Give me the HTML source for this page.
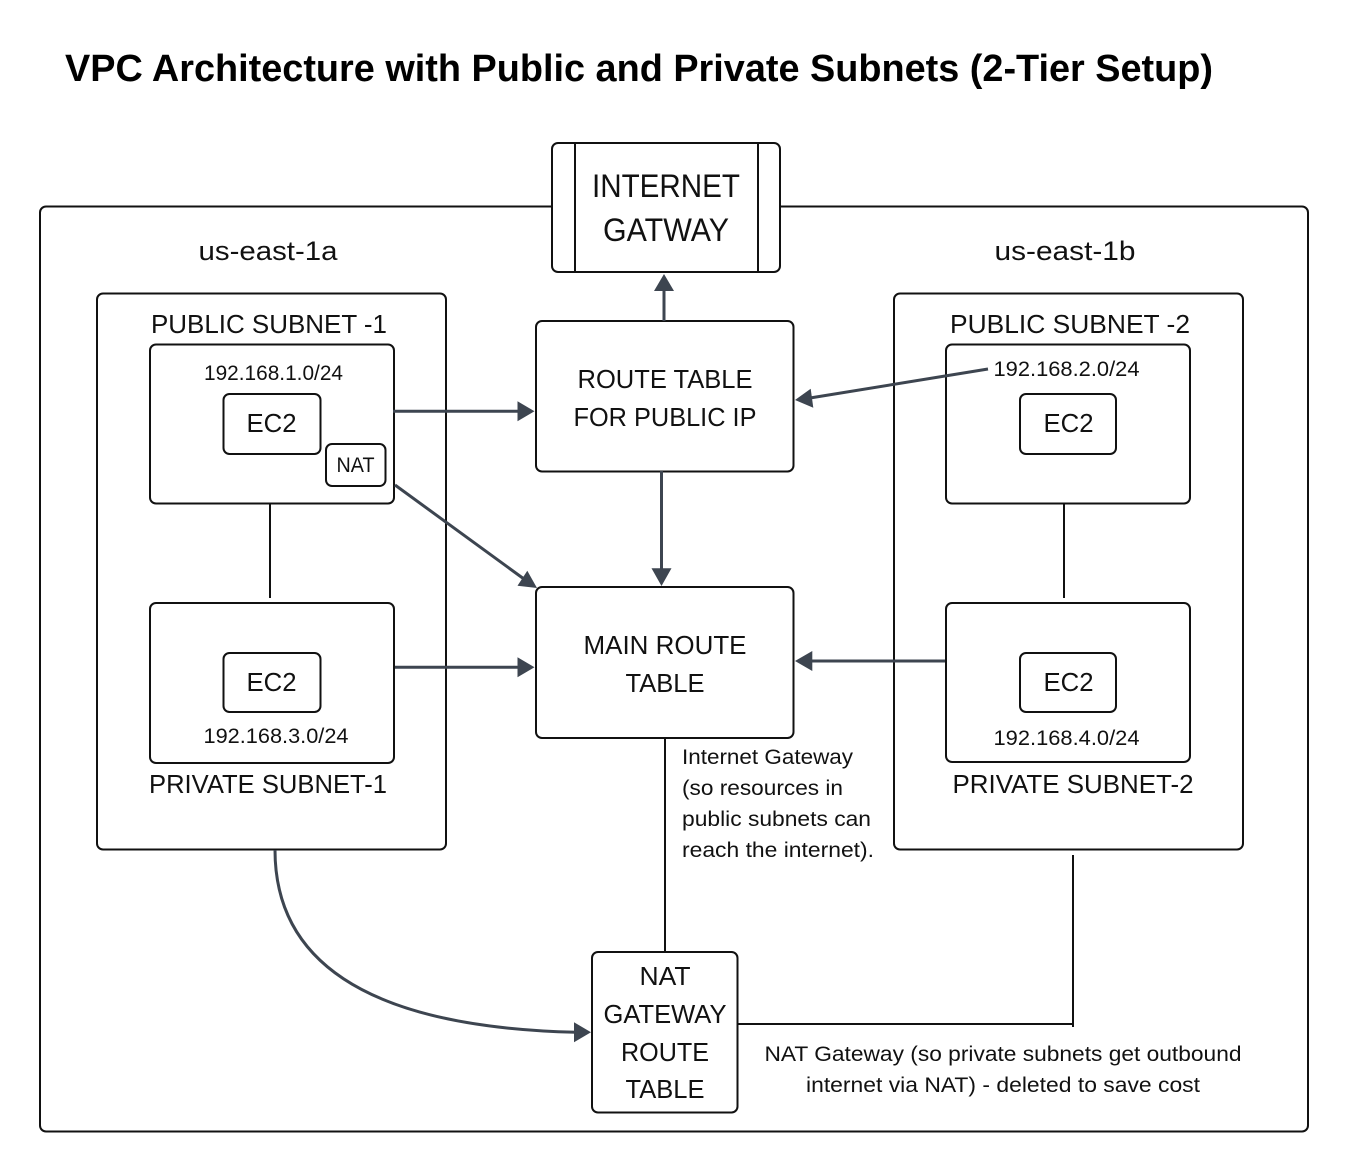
<!DOCTYPE html>
<html><head><meta charset="utf-8"><style>
html,body{margin:0;padding:0;background:#fff}
svg{display:block}
text{font-family:"Liberation Sans",sans-serif;fill:#111;text-anchor:middle}
.b{fill:#fff;stroke:#111;stroke-width:2}
.l{stroke:#111;stroke-width:2;fill:none}
.c{stroke:#3d4550;stroke-width:3;fill:none}
.h{fill:#3d4550;stroke:none}
</style></head><body>
<svg width="1348" height="1171" viewBox="0 0 1348 1171" xmlns="http://www.w3.org/2000/svg">
<rect width="1348" height="1171" fill="#fff"/>
<text x="639" y="81" font-size="38" font-weight="700" textLength="1148" lengthAdjust="spacingAndGlyphs" style="fill:#000">VPC Architecture with Public and Private Subnets (2-Tier Setup)</text>
<rect class="b" x="40" y="206.500" width="1268" height="925" rx="6"/>
<rect class="b" x="97" y="293.500" width="349" height="556" rx="6"/>
<rect class="b" x="894" y="293.500" width="349" height="556" rx="6"/>
<rect class="b" x="150" y="344.500" width="244" height="159" rx="6"/>
<rect class="b" x="150" y="603" width="244" height="160" rx="6"/>
<rect class="b" x="946" y="344.500" width="244" height="159" rx="6"/>
<rect class="b" x="946" y="603" width="244" height="159" rx="6"/>
<rect class="b" x="223.500" y="394" width="97" height="60" rx="6"/>
<rect class="b" x="326" y="444" width="59.500" height="42" rx="6"/>
<rect class="b" x="1020" y="394" width="96" height="60" rx="6"/>
<rect class="b" x="223.500" y="653" width="97" height="59" rx="6"/>
<rect class="b" x="1020" y="653" width="96" height="59" rx="6"/>
<rect class="b" x="552" y="143" width="228" height="129" rx="6"/>
<path class="l" d="M575 143V272M758 143V272"/>
<rect class="b" x="536" y="321" width="257.500" height="150.500" rx="6"/>
<rect class="b" x="536" y="587" width="257.500" height="151" rx="6"/>
<rect class="b" x="592" y="952" width="145.500" height="160.500" rx="6"/>
<path class="l" d="M270 504V598M1064 504V598M665 738V952M738 1024H1073M1073 855V1027"/>
<path class="c" d="M664 321V290M393 411.300H520M661.500 471V572M395 485L524 579M395 667.300H520M945 661H810M988 369L810 398M275 850C275 980 400 1028 576 1032.300"/>
<path class="h" d="M664 274L674 291H654ZM534.500 411.300L517.500 401.300V421.300ZM661.500 586L651.500 568.300H671.500ZM537 588L517.500 585.700L527.300 570.700ZM534.500 667.300L517.500 657.300V677.300ZM795 661L812.300 651V671ZM795 400L810.700 388.700L813.300 407.700ZM591 1032.300L574 1022.300V1042.300Z"/>
<g font-size="27">
<text x="268" y="260" textLength="139" lengthAdjust="spacingAndGlyphs">us-east-1a</text>
<text x="1065" y="260" textLength="141" lengthAdjust="spacingAndGlyphs">us-east-1b</text>
</g>
<g font-size="26">
<text x="269" y="333" textLength="236" lengthAdjust="spacingAndGlyphs">PUBLIC SUBNET -1</text>
<text x="1070" y="333" textLength="240" lengthAdjust="spacingAndGlyphs">PUBLIC SUBNET -2</text>
<text x="268" y="793" textLength="238" lengthAdjust="spacingAndGlyphs">PRIVATE SUBNET-1</text>
<text x="1073" y="793" textLength="241" lengthAdjust="spacingAndGlyphs">PRIVATE SUBNET-2</text>
<text x="271.500" y="432" textLength="50" lengthAdjust="spacingAndGlyphs">EC2</text>
<text x="1068.500" y="432" textLength="50" lengthAdjust="spacingAndGlyphs">EC2</text>
<text x="271.500" y="691" textLength="50" lengthAdjust="spacingAndGlyphs">EC2</text>
<text x="1068.500" y="691" textLength="50" lengthAdjust="spacingAndGlyphs">EC2</text>
<text x="665" y="388" textLength="175" lengthAdjust="spacingAndGlyphs">ROUTE TABLE</text>
<text x="665" y="426" textLength="183" lengthAdjust="spacingAndGlyphs">FOR PUBLIC IP</text>
<text x="665" y="654" textLength="163" lengthAdjust="spacingAndGlyphs">MAIN ROUTE</text>
<text x="665" y="692" textLength="79" lengthAdjust="spacingAndGlyphs">TABLE</text>
<text x="665" y="985" textLength="51" lengthAdjust="spacingAndGlyphs">NAT</text>
<text x="665" y="1023" textLength="123" lengthAdjust="spacingAndGlyphs">GATEWAY</text>
<text x="665" y="1061" textLength="88" lengthAdjust="spacingAndGlyphs">ROUTE</text>
<text x="665" y="1098" textLength="79" lengthAdjust="spacingAndGlyphs">TABLE</text>
</g>
<g font-size="32">
<text x="666" y="197" textLength="148" lengthAdjust="spacingAndGlyphs">INTERNET</text>
<text x="666" y="241" textLength="126" lengthAdjust="spacingAndGlyphs">GATWAY</text>
</g>
<g font-size="21">
<text x="273.500" y="380" textLength="139" lengthAdjust="spacingAndGlyphs">192.168.1.0/24</text>
<text x="1066.500" y="376" textLength="146" lengthAdjust="spacingAndGlyphs">192.168.2.0/24</text>
<text x="276" y="743" textLength="145" lengthAdjust="spacingAndGlyphs">192.168.3.0/24</text>
<text x="1066.500" y="745" textLength="146" lengthAdjust="spacingAndGlyphs">192.168.4.0/24</text>
<text x="355.500" y="472" textLength="38" lengthAdjust="spacingAndGlyphs">NAT</text>
</g>
<g font-size="21">
<text x="682" y="764" style="text-anchor:start" textLength="171" lengthAdjust="spacingAndGlyphs">Internet Gateway</text>
<text x="682" y="795" style="text-anchor:start" textLength="161" lengthAdjust="spacingAndGlyphs">(so resources in</text>
<text x="682" y="826" style="text-anchor:start" textLength="189" lengthAdjust="spacingAndGlyphs">public subnets can</text>
<text x="682" y="857" style="text-anchor:start" textLength="192" lengthAdjust="spacingAndGlyphs">reach the internet).</text>
</g>
<g font-size="21">
<text x="1003" y="1061" textLength="477" lengthAdjust="spacingAndGlyphs">NAT Gateway (so private subnets get outbound</text>
<text x="1003" y="1092" textLength="394" lengthAdjust="spacingAndGlyphs">internet via NAT) - deleted to save cost</text>
</g>
</svg>
</body></html>
